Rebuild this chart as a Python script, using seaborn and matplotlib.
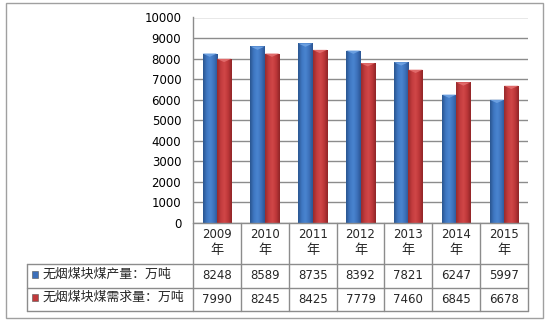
import numpy as np
import pandas as pd
import matplotlib
matplotlib.use("Agg")
import matplotlib.pyplot as plt
import matplotlib.transforms as mtransforms
from matplotlib.colors import LinearSegmentedColormap
from matplotlib.lines import Line2D
from matplotlib.patches import Rectangle
import seaborn as sns

# ---- data ----
years = ["2009", "2010", "2011", "2012", "2013", "2014", "2015"]
year_labels = ["2009\n年", "2010\n年", "2011\n年", "2012\n年", "2013\n年", "2014\n年", "2015\n年"]
series_names = ["无烟煤块煤产量：万吨", "无烟煤块煤需求量：万吨"]
production = [8248, 8589, 8735, 8392, 7821, 6247, 5997]
demand = [7990, 8245, 8425, 7779, 7460, 6845, 6678]
yticks = [0, 1000, 2000, 3000, 4000, 5000, 6000, 7000, 8000, 9000, 10000]

BLUE = "#3c6fba"
RED = "#c0393b"
GRID = "#8c8c8c"

df = pd.DataFrame({
    "year": years * 2,
    "value": production + demand,
    "series": [series_names[0]] * len(years) + [series_names[1]] * len(years),
})

sns.set_style("white")
plt.rcParams["font.family"] = ["DejaVu Sans", "Noto Sans CJK SC"]

W, H = 546, 321
fig = plt.figure(figsize=(W / 100, H / 100), dpi=100)
fig.patch.set_facecolor("white")

def fx(x):
    return x / W

def fy(y):
    return 1 - y / H

ax_left, ax_right, ax_top, ax_bot = 193, 528, 17.5, 223
ax = fig.add_axes([fx(ax_left), fy(ax_bot), fx(ax_right) - fx(ax_left), fy(ax_top) - fy(ax_bot)])

sns.barplot(data=df, x="year", y="value", hue="series", order=years,
            hue_order=series_names, palette=[BLUE, RED], width=0.6,
            saturation=1, legend=False, ax=ax, errorbar=None, linewidth=0)

# gradient shading on bars (cylinder-like)
cmaps = {
    BLUE: LinearSegmentedColormap.from_list("b", ["#2a558f", "#3f77c2", "#4a85d0", "#3d71bb", "#2b5592"]),
    RED: LinearSegmentedColormap.from_list("r", ["#962a2c", "#c23b3d", "#d14748", "#bd3739", "#8f2527"]),
}
caps = {BLUE: "#6b9fe0", RED: "#e06a6a"}
grad = np.linspace(0, 1, 64).reshape(1, -1)
bars = list(ax.patches)
for i, p in enumerate(bars):
    x0 = p.get_x()
    w = p.get_width()
    h = p.get_height()
    col = BLUE if i < len(years) else RED
    im = ax.imshow(grad, extent=[x0, x0 + w, 0, h], aspect="auto",
                   cmap=cmaps[col], zorder=3, interpolation="bicubic")
    im.set_clip_path(p)
    cap_h = 160
    ax.fill([x0, x0 + w, x0 + w / 2], [h, h, h - cap_h], color=caps[col], zorder=4, lw=0)

ax.set_xlim(-0.5, 6.5)
ax.set_ylim(0, 10000)
ax.set_yticks(yticks)
ax.set_yticklabels([str(v) for v in yticks], fontsize=8.5, color="black")
ax.tick_params(axis="y", length=0, pad=8.5)
ax.set_xticks([])
ax.set_xlabel("")
ax.set_ylabel("")
ax.set_axisbelow(True)
ax.yaxis.grid(True, color=GRID, linewidth=1.0)
for s in ["top", "right", "bottom"]:
    ax.spines[s].set_visible(False)
ax.spines["left"].set_color(GRID)
ax.spines["left"].set_linewidth(1.0)
ax.set_facecolor("none")

# ---- data table ----
bt = mtransforms.blended_transform_factory(ax.transData, fig.transFigure)
lw = 1.0
row1, row2, row3 = 264, 287.7, 310.7
leg_left = 27

def hline(x0, x1, y):
    fig.add_artist(Line2D([fx(x0), fx(x1)], [fy(y), fy(y)], color=GRID, lw=lw, transform=fig.transFigure))

def vline(x, y0, y1):
    fig.add_artist(Line2D([fx(x), fx(x)], [fy(y0), fy(y1)], color=GRID, lw=lw, transform=fig.transFigure))

hline(ax_left, ax_right, ax_bot)
for yy in (row1, row2, row3):
    hline(leg_left, ax_right, yy)
vline(leg_left, row1, row3)
vline(ax_left, ax_bot, row3)
for k in range(1, len(years) + 1):
    xb = -0.5 + k
    ax.add_line(Line2D([xb, xb], [fy(ax_bot), fy(row3)], color=GRID, lw=lw, transform=bt, clip_on=False))

for i, lab in enumerate(year_labels):
    top, bottom = lab.split("\n")
    ax.text(i, fy(235), top, transform=bt, ha="center", va="center", fontsize=8.5)
    ax.text(i, fy(250.5), bottom, transform=bt, ha="center", va="center", fontsize=9.5,
            family=["Noto Sans CJK SC", "DejaVu Sans"])
    ax.text(i, fy(275.5), str(production[i]), transform=bt, ha="center", va="center", fontsize=8.5)
    ax.text(i, fy(299.5), str(demand[i]), transform=bt, ha="center", va="center", fontsize=8.5)

# legend keys and labels
for (name, col, yc) in ((series_names[0], BLUE, 274.5), (series_names[1], RED, 297)):
    fig.patches.append(Rectangle((fx(31.5), fy(yc + 3.5)), fx(6.5), fy(0) - fy(7), transform=fig.transFigure,
                                 facecolor=col, edgecolor="#555555", lw=0.4))
    fig.text(fx(43), fy(yc), name, ha="left", va="center", fontsize=9.3,
             family=["Noto Sans CJK SC", "DejaVu Sans"])

# outer border
fig.patches.append(Rectangle((fx(5.7), fy(317.7)), fx(543) - fx(5.7), fy(3.3) - fy(317.7),
                             transform=fig.transFigure, fill=False, edgecolor="#a0a0a0", lw=1.0))

fig.savefig("out.png", dpi=100)
